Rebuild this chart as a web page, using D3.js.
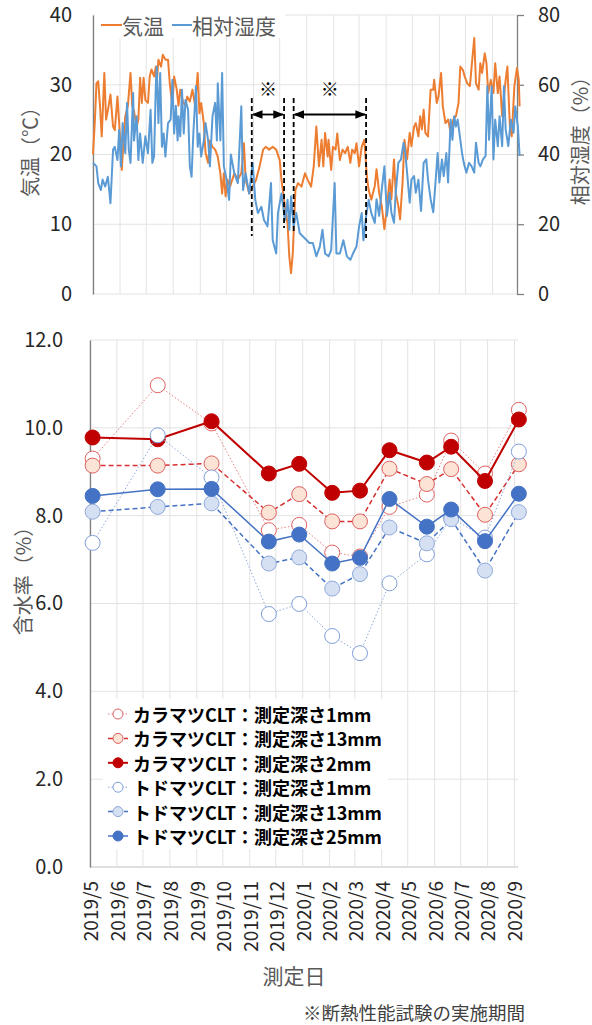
<!DOCTYPE html>
<html>
<head>
<meta charset="utf-8">
<script src="https://cdn.jsdelivr.net/npm/d3@7"></script>
<style>
body { margin: 0; background: #fff; }
svg { display: block; }
</style>
</head>
<body>
<script>
// ---- data ----
// top chart: [days since 2019/5/1, value]
var tempSeries = [[0,20],[2,24.5],[4,30.2],[6,30.5],[8,27],[10,22.6],[13,31.7],[15,25],[18,27],[20,28.6],[23,24],[25,23.5],[28,28.3],[30,24.5],[33,17.8],[35,22],[37,25.5],[40,27],[43,31.7],[45,27],[47,26.2],[50,24],[52,25],[54,31],[56,27.4],[58,31],[60,27.8],[63,27.4],[65,31.2],[67,32.2],[70,31.2],[72,32.6],[73,30.2],[75,33.6],[78,32.6],[80,34.3],[83,33.6],[86,33.6],[88,30.2],[91,27],[93,31.2],[96,29.3],[98,27],[100,29.3],[103,27.6],[106,27],[108,28.3],[111,27.6],[114,29.3],[117,27],[120,31.7],[122,25.9],[124,27.4],[127,24.5],[129,20.2],[132,18.8],[134,22],[137,21.1],[140,20.7],[143,19.7],[146,17.3],[148,14.4],[150,17.3],[152,14],[154,16.4],[157,15.4],
	[162,17.3],[166,16.4],[170,17.3],[173,21.6],[175,16.4],[179,14.4],[183,15.4],[187,16.4],[191,18.3],[195,20.7],[198,21.1],[202,20.7],[206,21.1],[210,20.7],[214,19.2],[216,16.4],[220,12.5],[223,10.1],[225,5.4],[227,3],[229,5.8],[232,14.9],[235,15.9],[239,15.4],[243,17.3],[246,16.4],[250,15.4],[253,18.3],[256,24],[259,18.3],[262,22.1],[264,18.3],[266,23.1],[269,19.7],[270,22.1],[273,17.8],[275,21.1],[278,20.7],[280,23],[283,19.2],[286,20.7],[289,20.2],[292,21.1],[295,18.8],[297,20.7],[300,20.2],[302,21.6],[305,18.3],[308,21.1],[311,22.1],[314,16.8],[316,14.9],[319,13.5],
	[323,15.5],[325,17.9],[328,14.5],[331,12.6],[334,9.3],[337,12.6],[340,16.4],[342,13.6],[345,19.3],[347,14.5],[350,12.6],[352,10.7],[355,16.4],[357,22.1],[360,19.3],[363,23.1],[365,21.2],[368,24],[370,24.5],[373,22.6],[375,25.5],[377,23.6],[379,26.4],[381,23.1],[384,22.6],[387,29.3],[390,29.3],[391,30.7],[394,27.4],[396,28.3],[399,31.7],[401,26.9],[404,24.5],[407,25],[410,23.1],[413,25],[416,25.5],[419,27.4],[421,32.6],[424,32.1],[426,31.2],[429,30.2],[432,29.8],[434,32.6],[437,36.7],[439,30.2],[442,29.3],[444,33.1],[446,31.7],[449,34.5],[451,33.1],[453,28.8],[456,30.7],[459,28.8],[461,33.1],[464,28.8],[466,31.2],[469,25.5],[473,30.7],[475,32.6],[478,23.6],[480,22.6],[483,29.8],[486,32.4],[488,30.7],[489,26.9]];

var humidSeries = [[0,37.6],[4,36.6],[6,31.8],[9,29.8],[11,32.8],[14,30.8],[17,33.6],[19,28.8],[20,26],[23,41.4],[25,42.2],[28,38.4],[30,47],[32,36.6],[34,49],[37,40.4],[39,54.8],[41,41.4],[43,37.6],[46,57.6],[47,44],[50,51],[52,38.4],[54,46],[57,37.6],[60,45.2],[63,40.4],[66,52.8],[68,37.6],[70,39.4],[72,59.6],[73,65.2],[75,49],[77,63.4],[79,42.2],[81,46],[83,39.4],[86,49],[89,50],[91,61.4],[93,46],[95,54],[97,44],[98,51],[100,45.2],[102,58.6],[104,46],[106,55.6],[109,52.8],[111,36.6],[113,33.6],[115,46],[118,59.6],[120,42.2],[122,46],[124,39.4],[127,44],[129,49],[132,44],[134,36.6],[137,51],[140,54.8],[142,44],[143,60.4],[146,44],[148,63.4],[150,36.6],[153,32.8],[156,27],
	[158,40],[162,34.6],[166,31.8],[170,53.8],[172,29.8],[175,34.6],[179,28.8],[183,37.6],[186,27],[189,23.2],[193,25],[196,21.2],[200,19.4],[204,31.8],[206,15.4],[210,11.6],[212,23.2],[216,28.8],[220,21.2],[223,27],[225,18.4],[227,28],[230,19.4],[233,23.2],[237,17.4],[241,16.4],[245,15.4],[248,14.6],[252,14.6],[256,10.8],[260,13.6],[263,18.4],[266,11.6],[270,10.8],[273,12.6],[277,31.8],[279,11.6],[283,11.6],[287,15.4],[291,10.8],[295,9.8],[298,11.6],[302,13.6],[305,19.4],[308,23.2],[310,15.4],[313,22.2],[316,27],[319,23.2],
	[323,20.4],[325,27.2],[328,22.4],[331,30],[334,36.6],[337,22.4],[340,29],[342,23.4],[345,20.4],[347,29],[350,37.6],[353,38.6],[356,43.4],[358,40.4],[360,34.8],[363,26.2],[365,32.8],[368,33.8],[370,29],[373,32.8],[376,23.8],[379,37.6],[382,38.6],[384,32.8],[387,27.2],[390,23.4],[392,30],[395,40.4],[397,32],[400,38.6],[402,33.8],[405,40.4],[407,32],[410,50],[412,44.2],[414,51],[416,48],[418,50],[420,46.2],[423,40.4],[425,37.6],[428,34.8],[431,37.6],[434,36.6],[437,34.8],[439,43.4],[442,37.6],[444,36.6],[447,38.6],[450,39.6],[452,59.6],[454,44.2],[457,59.6],[459,38.6],[461,50],[464,42.4],[466,51],[469,42.4],[471,59.6],[473,47.2],[476,42.4],[479,50],[482,46.2],[484,53.8],[487,48],[489,39.6]];

// insulation test periods (※)
var testPeriods = [['2019-10-30', '2019-12-06'], ['2019-12-17', '2020-03-09']];

// bottom chart
var measureDates = ['2019-05-04', '2019-07-18', '2019-09-18', '2019-11-23', '2019-12-28', '2020-02-04',
	'2020-03-07', '2020-04-10', '2020-05-23', '2020-06-20', '2020-07-29', '2020-09-06'];
var karamatsu1 = [9.30, 10.97, 10.10, 7.67, 7.79, 7.16, 7.07, 8.20, 8.48, 9.71, 8.96, 10.41];
var karamatsu13 = [9.14, 9.14, 9.19, 8.07, 8.49, 7.87, 7.87, 9.07, 8.72, 9.06, 8.02, 9.17];
var karamatsu2 = [9.78, 9.74, 10.15, 8.96, 9.18, 8.52, 8.57, 9.49, 9.21, 9.57, 8.79, 10.19];
var todomatsu1 = [7.38, 9.83, 8.87, 5.76, 5.99, 5.26, 4.87, 6.46, 7.12, 7.95, 7.50, 9.46];
var todomatsu13 = [8.09, 8.20, 8.28, 6.91, 7.05, 6.34, 6.67, 7.73, 7.37, 7.92, 6.75, 8.08];
var todomatsu25 = [8.45, 8.60, 8.61, 7.41, 7.57, 6.91, 7.04, 8.38, 7.75, 8.14, 7.42, 8.50];
var seriesNames = ['カラマツCLT：測定深さ1mm', 'カラマツCLT：測定深さ13mm', 'カラマツCLT：測定深さ2mm',
	'トドマツCLT：測定深さ1mm', 'トドマツCLT：測定深さ13mm', 'トドマツCLT：測定深さ25mm'];
var monthLabels = ['2019/5', '2019/6', '2019/7', '2019/8', '2019/9', '2019/10', '2019/11', '2019/12',
	'2020/1', '2020/2', '2020/3', '2020/4', '2020/5', '2020/6', '2020/7', '2020/8', '2020/9'];

// ---- setup ----
var width = 592, height = 1025;
var font = '"Noto Sans CJK JP", "Noto Sans", sans-serif';
var parse = d3.timeParse('%Y-%m-%d');
var parseMonth = d3.timeParse('%Y/%m');
var start = parse('2019-05-01');
var months = monthLabels.map(function(m) { return parseMonth(m); });
var gridColor = '#e3e3e3';

var svg = d3.select('body').append('svg')
	.attr('width', width)
	.attr('height', height)
	.style('font-family', font);

// ===== top chart: temperature & humidity =====
var xTop = d3.scaleTime().domain([start, parse('2020-08-29')]).range([93, 517]);
var yTemp = d3.scaleLinear().domain([0, 40]).range([294, 15]);
var yHum = d3.scaleLinear().domain([0, 80]).range([294, 15]);

var gTop = svg.append('g');

// gridlines
gTop.selectAll('.hgrid').data(yTemp.ticks(4)).enter().append('line')
	.attr('x1', 93).attr('x2', 517)
	.attr('y1', function(d) { return yTemp(d); })
	.attr('y2', function(d) { return yTemp(d); })
	.attr('stroke', gridColor).attr('stroke-width', 1);
gTop.selectAll('.vgrid').data(months.filter(function(d) { return xTop(d) < 516; })).enter().append('line')
	.attr('x1', function(d) { return xTop(d); })
	.attr('x2', function(d) { return xTop(d); })
	.attr('y1', 15).attr('y2', 294)
	.attr('stroke', gridColor).attr('stroke-width', 1);

// axes
var leftAxis = gTop.append('g')
	.attr('transform', 'translate(93,0)')
	.call(d3.axisLeft(yTemp).ticks(4).tickSize(0).tickPadding(21));
var rightAxis = gTop.append('g')
	.attr('transform', 'translate(517,0)')
	.call(d3.axisRight(yHum).ticks(4).tickSize(7).tickSizeOuter(0).tickPadding(14));
[leftAxis, rightAxis].forEach(function(a) {
	a.select('.domain').attr('stroke', '#808080').attr('stroke-width', 1.3);
	a.selectAll('.tick line').attr('stroke', '#808080').attr('stroke-width', 1.3);
	a.selectAll('text').style('font-family', font).style('font-size', '20px').attr('fill', '#262626');
});

function dayToDate(d) { return d3.timeDay.offset(start, d); }

var tempLine = d3.line()
	.x(function(d) { return xTop(dayToDate(d[0])); })
	.y(function(d) { return yTemp(d[1]); });
var humLine = d3.line()
	.x(function(d) { return xTop(dayToDate(d[0])); })
	.y(function(d) { return yHum(d[1]); });

gTop.append('path').datum(tempSeries)
	.attr('d', tempLine).attr('fill', 'none')
	.attr('stroke', '#ED7D31').attr('stroke-width', 2).attr('stroke-linejoin', 'round');
gTop.append('path').datum(humidSeries)
	.attr('d', humLine).attr('fill', 'none')
	.attr('stroke', '#5B9BD5').attr('stroke-width', 2).attr('stroke-linejoin', 'round');

// test period annotations
var defs = svg.append('defs');
defs.append('marker').attr('id', 'arrow')
	.attr('viewBox', '0 0 10 10').attr('refX', 9).attr('refY', 5)
	.attr('markerWidth', 6).attr('markerHeight', 6)
	.attr('orient', 'auto-start-reverse')
	.append('path').attr('d', 'M0,1 L10,5 L0,9 Z').attr('fill', '#000');

var dashTops = [98, 98];
var dashBottoms = [[236, 228], [231, 238]];
testPeriods.forEach(function(p, i) {
	var x1 = xTop(parse(p[0])), x2 = xTop(parse(p[1]));
	[x1, x2].forEach(function(x, j) {
		gTop.append('line')
			.attr('x1', x).attr('x2', x)
			.attr('y1', dashTops[i]).attr('y2', dashBottoms[i][j])
			.attr('stroke', '#000').attr('stroke-width', 1.8)
			.attr('stroke-dasharray', '5,3');
	});
	gTop.append('line')
		.attr('x1', x1 + 1).attr('x2', x2 - 1)
		.attr('y1', 114.5).attr('y2', 114.5)
		.attr('stroke', '#000').attr('stroke-width', 1.8)
		.attr('marker-start', 'url(#arrow)').attr('marker-end', 'url(#arrow)');
	gTop.append('text')
		.attr('x', (x1 + x2) / 2).attr('y', 88)
		.attr('text-anchor', 'middle').attr('dominant-baseline', 'central')
		.style('font-size', '18px').attr('fill', '#000')
		.text('※');
});

// top legend
gTop.append('rect').attr('x', 95).attr('y', 10).attr('width', 190).attr('height', 28).attr('fill', '#fff');
var topLegend = [['気温', '#ED7D31', 101, 122], ['相対湿度', '#5B9BD5', 172, 192]];
topLegend.forEach(function(l) {
	gTop.append('line').attr('x1', l[2]).attr('x2', l[3]).attr('y1', 25).attr('y2', 25)
		.attr('stroke', l[1]).attr('stroke-width', 2);
	gTop.append('text').attr('x', l[3]).attr('y', 25)
		.attr('dominant-baseline', 'central')
		.style('font-size', '21px').attr('fill', '#595959')
		.text(l[0]);
});

// axis titles
svg.append('text')
	.attr('transform', 'translate(29,147) rotate(-90)')
	.attr('text-anchor', 'middle').attr('dominant-baseline', 'central')
	.style('font-size', '20px').attr('fill', '#595959')
	.text('気温（℃）');
svg.append('text')
	.attr('transform', 'translate(579,136) rotate(-90)')
	.attr('text-anchor', 'middle').attr('dominant-baseline', 'central')
	.style('font-size', '20px').attr('fill', '#595959')
	.text('相対湿度（%）');

// ===== bottom chart: moisture content =====
var xBot = d3.scaleTime().domain([start, parse('2020-09-05')]).range([90, 518]);
var yBot = d3.scaleLinear().domain([0, 12]).range([867, 340]);
var gBot = svg.append('g');

gBot.selectAll('.hgrid').data(yBot.ticks(6)).enter().append('line')
	.attr('x1', 90).attr('x2', 518)
	.attr('y1', function(d) { return yBot(d); })
	.attr('y2', function(d) { return yBot(d); })
	.attr('stroke', function(d) { return d === 0 ? '#bfbfbf' : gridColor; })
	.attr('stroke-width', 1);
gBot.selectAll('.vgrid').data(months).enter().append('line')
	.attr('x1', function(d) { return xBot(d); })
	.attr('x2', function(d) { return xBot(d); })
	.attr('y1', 340).attr('y2', 867)
	.attr('stroke', gridColor).attr('stroke-width', 1);

var botAxis = gBot.append('g')
	.attr('transform', 'translate(90,0)')
	.call(d3.axisLeft(yBot).ticks(6).tickFormat(d3.format('.1f')).tickSize(0).tickPadding(27));
botAxis.select('.domain').attr('stroke', '#808080').attr('stroke-width', 1.3);
botAxis.selectAll('text').style('font-family', font).style('font-size', '20px').attr('fill', '#262626');

// month labels
gBot.selectAll('.mlabel').data(monthLabels).enter().append('text')
	.attr('transform', function(d, i) { return 'translate(' + (xBot(months[i]) + 1) + ',881) rotate(-90)'; })
	.attr('text-anchor', 'end').attr('dy', '0.36em')
	.style('font-size', '19px').attr('fill', '#262626')
	.text(function(d) { return d; });

// series
var dates = measureDates.map(function(d) { return parse(d); });
var styles = [
	{ values: karamatsu1, line: '#E88080', width: 1, dash: '1.5,2', fill: '#fff', stroke: '#E06060' },
	{ values: karamatsu13, line: '#D83030', width: 1.5, dash: '5,3', fill: '#FBE3D6', stroke: '#E06060' },
	{ values: karamatsu2, line: '#C00000', width: 2, dash: null, fill: '#C00000', stroke: '#C00000' },
	{ values: todomatsu1, line: '#8FAADC', width: 1, dash: '1.5,2', fill: '#fff', stroke: '#7F9FDA' },
	{ values: todomatsu13, line: '#4472C4', width: 1.5, dash: '5,3', fill: '#D6E0F3', stroke: '#8EA9DB' },
	{ values: todomatsu25, line: '#4472C4', width: 1.5, dash: null, fill: '#4472C4', stroke: '#4472C4' }
];

var moistLine = d3.line()
	.x(function(d, i) { return xBot(dates[i]); })
	.y(function(d) { return yBot(d); });

styles.forEach(function(s) {
	var g = gBot.append('g');
	g.append('path').datum(s.values)
		.attr('d', moistLine).attr('fill', 'none')
		.attr('stroke', s.line).attr('stroke-width', s.width)
		.attr('stroke-dasharray', s.dash);
	g.selectAll('circle').data(s.values).enter().append('circle')
		.attr('cx', function(d, i) { return xBot(dates[i]); })
		.attr('cy', function(d) { return yBot(d); })
		.attr('r', 7.5)
		.attr('fill', s.fill).attr('stroke', s.stroke).attr('stroke-width', 1);
});

// legend
var legend = gBot.append('g');
legend.append('rect').attr('x', 103).attr('y', 699).attr('width', 285).attr('height', 150).attr('fill', '#fff');
seriesNames.forEach(function(name, i) {
	var s = styles[i], y = 714 + i * 24.4;
	legend.append('line').attr('x1', 108).attr('x2', 128).attr('y1', y).attr('y2', y)
		.attr('stroke', s.line).attr('stroke-width', s.width).attr('stroke-dasharray', s.dash);
	legend.append('circle').attr('cx', 118).attr('cy', y).attr('r', 5)
		.attr('fill', s.fill).attr('stroke', s.stroke).attr('stroke-width', 1);
	legend.append('text').attr('x', 133).attr('y', y)
		.attr('dominant-baseline', 'central')
		.style('font-size', '18px').style('font-weight', 'bold').attr('fill', '#000')
		.text(name);
});

// titles
svg.append('text')
	.attr('transform', 'translate(22,576) rotate(-90)')
	.attr('text-anchor', 'middle').attr('dominant-baseline', 'central')
	.style('font-size', '20px').attr('fill', '#595959')
	.text('含水率（%）');
svg.append('text')
	.attr('x', 294).attr('y', 975)
	.attr('text-anchor', 'middle').attr('dominant-baseline', 'central')
	.style('font-size', '21px').attr('fill', '#595959')
	.text('測定日');
svg.append('text')
	.attr('x', 525).attr('y', 1012)
	.attr('text-anchor', 'end').attr('dominant-baseline', 'central')
	.style('font-size', '18.5px').attr('fill', '#404040')
	.text('※断熱性能試験の実施期間');
</script>
</body>
</html>
